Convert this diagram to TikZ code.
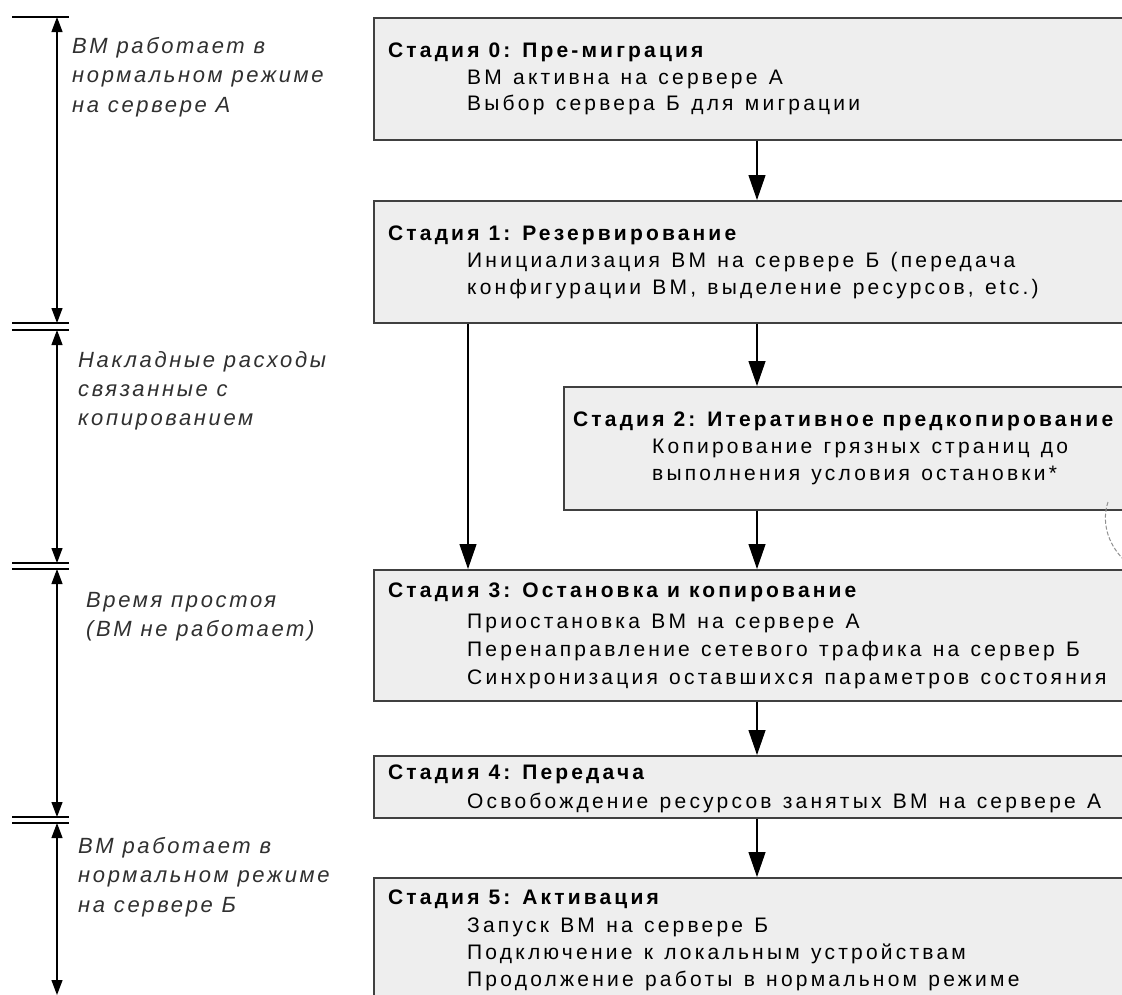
\documentclass[tikz,border=0pt]{standalone}
\usepackage{fontspec}
\setmainfont{Liberation Sans}
\newfontfamily\headfont{Liberation Sans}[LetterSpace=15]
\newfontfamily\bodyfont{Liberation Sans}[LetterSpace=15.3,WordSpace=1.25]
\newfontfamily\labfont{Liberation Sans}[LetterSpace=12]
\usetikzlibrary{arrows.meta}
\definecolor{boxfill}{HTML}{EEEEEE}
\definecolor{boxline}{HTML}{404040}
\definecolor{labcol}{HTML}{303030}
\definecolor{arcol}{HTML}{909090}
\begin{document}
\begin{tikzpicture}[x=1pt,y=-1pt,
  box/.style={draw=boxline, fill=boxfill, line width=1.5pt, inner sep=0pt, anchor=north west},
  arr/.style={-{Triangle[length=25pt,width=17pt]}, line width=1.2pt},
  dim/.style={{Triangle[length=15pt,width=11pt]}-{Triangle[length=15pt,width=11pt]}, line width=1.2pt},
  tick/.style={line width=1.2pt},
  head/.style={anchor=base west, inner sep=0pt, font=\headfont\bfseries\fontsize{21}{25}\selectfont},
  body/.style={anchor=base west, inner sep=0pt, font=\bodyfont\fontsize{21}{25}\selectfont},
  lab/.style={anchor=base west, inner sep=0pt, text=labcol, font=\labfont\itshape\fontsize{22}{26}\selectfont}
]
\useasboundingbox (0,0) rectangle (1122,994);
\clip (0,0) rectangle (1122,994);
\fill[white] (0,0) rectangle (1122,994);

% boxes
\node[box, minimum width=760pt, minimum height=122pt] (b0) at (373,17) {};
\node[box, minimum width=760pt, minimum height=122pt] (b1) at (373,200) {};
\node[box, minimum width=570pt, minimum height=123pt] (b2) at (563,386) {};
\node[box, minimum width=760pt, minimum height=131pt] (b3) at (373,569) {};
\node[box, minimum width=760pt, minimum height=62pt] (b4) at (373,755) {};
\node[box, minimum width=760pt, minimum height=140pt] (b5) at (373,877) {};

% texts
\node[head] (t0h) at (388,57) {Стадия 0: Пре-миграция};
\node[body] (t0a) at (467,84) {ВМ активна на сервере А};
\node[body] (t0b) at (467,110) {Выбор сервера Б для миграции};

\node[head] (t1h) at (388,240) {Стадия 1: Резервирование};
\node[body] (t1a) at (467,267) {Инициализация ВМ на сервере Б (передача};
\node[body] (t1b) at (467,294) {конфигурации ВМ, выделение ресурсов, etc.)};

\node[head] (t2h) at (573,426) {Стадия 2: Итеративное предкопирование};
\node[body] (t2a) at (652,453) {Копирование грязных страниц до};
\node[body] (t2b) at (652,480) {выполнения условия остановки*};

\node[head] (t3h) at (388,597) {Стадия 3: Остановка и копирование};
\node[body] (t3a) at (467,628) {Приостановка ВМ на сервере А};
\node[body] (t3b) at (467,656) {Перенаправление сетевого трафика на сервер Б};
\node[body] (t3c) at (467,684) {Синхронизация оставшихся параметров состояния};

\node[head] (t4h) at (388,779) {Стадия 4: Передача};
\node[body] (t4a) at (467,808) {Освобождение ресурсов занятых ВМ на сервере А};

\node[head] (t5h) at (388,904) {Стадия 5: Активация};
\node[body] (t5a) at (467,932) {Запуск ВМ на сервере Б};
\node[body] (t5b) at (467,959) {Подключение к локальным устройствам};
\node[body] (t5c) at (467,986) {Продолжение работы в нормальном режиме};

% flow arrows
\coordinate (mx) at (757,0);
\coordinate (lx) at (468,0);
\draw[arr] (b0.south -| mx) -- (b1.north -| mx);
\draw[arr] (b1.south -| mx) -- (b2.north -| mx);
\draw[arr] (b2.south -| mx) -- (b3.north -| mx);
\draw[arr] (b1.south -| lx) -- (b3.north -| lx);
\draw[arr] (b3.south -| mx) -- (b4.north -| mx);
\draw[arr] (b4.south -| mx) -- (b5.north -| mx);

% dashed arc at right
\draw[arcol, line width=1pt, dash pattern=on 4pt off 2pt] (1108,502) .. controls (1102,520) and (1106,542) .. (1124,560);

% time scale on the left
\coordinate (d0) at (57,17);
\coordinate (d1a) at (57,323);
\coordinate (d1b) at (57,330);
\coordinate (d2a) at (57,563);
\coordinate (d2b) at (57,569);
\coordinate (d3a) at (57,817);
\coordinate (d3b) at (57,823);
\coordinate (d4) at (57,995);
\foreach \c in {d0,d1a,d1b,d2a,d2b,d3a,d3b}
  \draw[tick] ([xshift=-45pt]\c) -- ([xshift=12pt]\c);
\draw[dim] (d0) -- (d1a);
\draw[dim] (d1b) -- (d2a);
\draw[dim] (d2b) -- (d3a);
\draw[dim] (d3b) -- (d4);

% labels
\node[lab] (l0a) at (72,53) {ВМ работает в};
\node[lab] (l0b) at (72,82) {нормальном режиме};
\node[lab] (l0c) at (72,112) {на сервере А};

\node[lab] (l1a) at (78,367) {Накладные расходы};
\node[lab] (l1b) at (78,396) {связанные с};
\node[lab] (l1c) at (78,425) {копированием};

\node[lab] (l2a) at (86,607) {Время простоя};
\node[lab] (l2b) at (86,636) {(ВМ не работает)};

\node[lab] (l3a) at (78,853) {ВМ работает в};
\node[lab] (l3b) at (78,882) {нормальном режиме};
\node[lab] (l3c) at (78,912) {на сервере Б};
\end{tikzpicture}
\end{document}
